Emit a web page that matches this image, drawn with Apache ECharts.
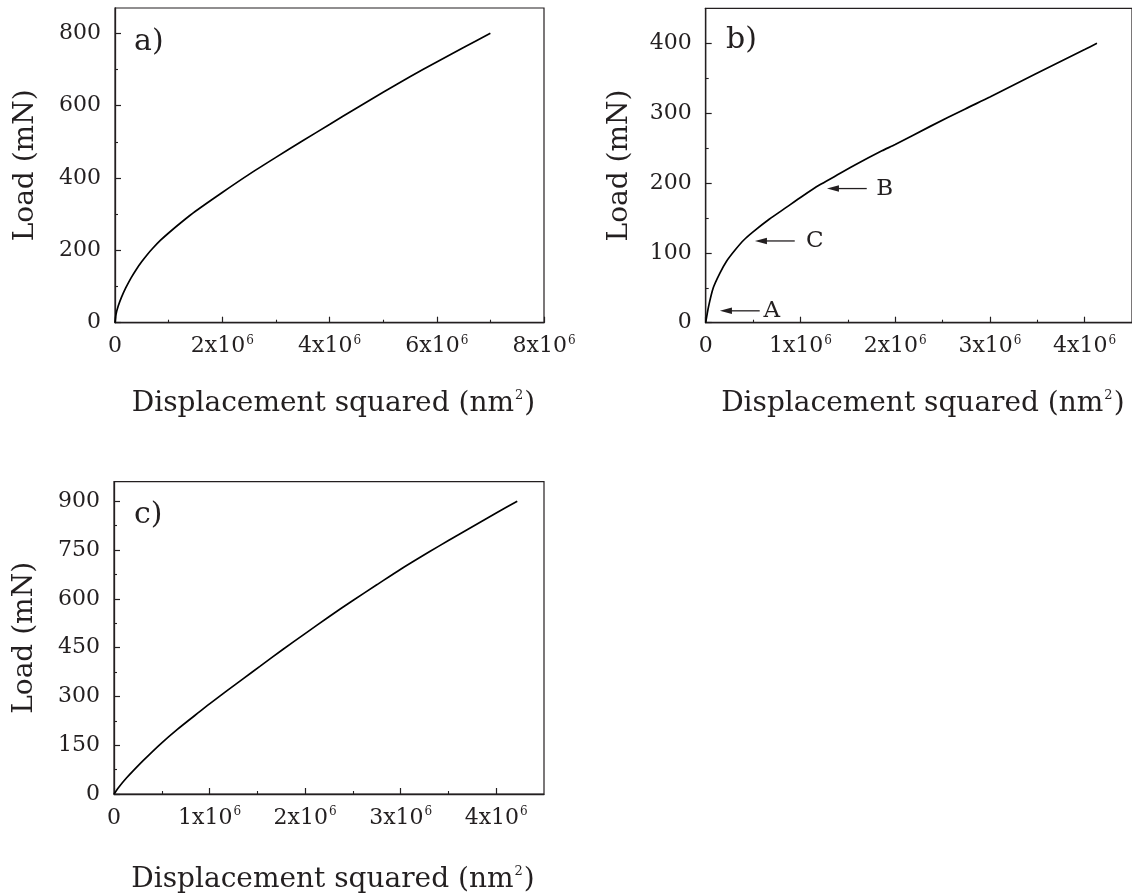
<!DOCTYPE html>
<html>
<head>
<meta charset="utf-8">
<script src="https://cdn.jsdelivr.net/npm/echarts@6/dist/echarts.min.js"></script>
<style>
  html, body { margin: 0; padding: 0; background: #fff; }
  #chart { width: 1132px; height: 895px; }
</style>
</head>
<body>
<div id="chart"></div>
<script>
// ---- Panel a) load vs displacement squared ----
const dispA = [0, 0.02e6, 0.06e6, 0.12e6, 0.2e6, 0.3e6, 0.4e6, 0.5e6, 0.6e6, 0.7e6, 0.85e6, 1.0e6, 1.25e6, 1.5e6,
               2.0e6, 2.5e6, 3.0e6, 3.5e6, 4.0e6, 4.5e6, 5.0e6, 5.5e6, 6.0e6, 6.5e6, 7.0e6];
const loadA = [0, 24, 46, 70, 96, 124, 148, 169, 188, 205, 228, 248, 279, 308,
               360, 410, 457, 503, 548, 593, 637, 680, 721, 761, 800];

// ---- Panel b) with marked points A, B, C ----
const dispB = [0, 0.03e6, 0.08e6, 0.15e6, 0.22e6, 0.31e6, 0.40e6, 0.5e6, 0.67e6, 0.85e6, 1.02e6, 1.2e6, 1.37e6,
               1.58e6, 1.86e6, 2.0e6, 2.37e6, 2.74e6, 3.0e6, 3.48e6, 4.0e6, 4.13e6];
const loadB = [0, 23, 50, 71, 88, 104, 118, 130, 148, 165, 181, 197, 210,
               226, 246, 255, 281, 306, 323, 356, 391, 400];
const markLabelsB = ['A', 'C', 'B'];
const markLoadB   = [17, 117, 192];
const markTipB    = [0.15e6, 0.52e6, 1.28e6];
const markTailB   = [0.57e6, 0.94e6, 1.70e6];
const markTextB   = [0.61e6, 1.06e6, 1.80e6];

// ---- Panel c) ----
const dispC = [0, 0.05e6, 0.13e6, 0.2e6, 0.31e6, 0.48e6, 0.66e6, 0.9e6, 1.0e6, 1.18e6, 1.35e6, 1.53e6, 1.77e6,
               2.0e6, 2.25e6, 2.5e6, 2.75e6, 3.0e6, 3.2e6, 3.4e6, 3.6e6, 3.8e6, 4.0e6, 4.22e6];
const loadC = [0, 21, 49, 71, 104, 152, 198, 254, 277, 317, 354, 393, 445,
               493, 545, 595, 643, 691, 727, 762, 796, 830, 864, 900];

// ---- axis extents and ticks ----
const xMaxA = 8e6, yMaxA = 870;
const xMajorA = [0, 2e6, 4e6, 6e6, 8e6];
const xMinorA = [1e6, 3e6, 5e6, 7e6];
const yMajorA = [0, 200, 400, 600, 800];
const yMinorA = [100, 300, 500, 700];

const xMaxB = 4.5e6, yMaxB = 450;
const xMajorB = [0, 1e6, 2e6, 3e6, 4e6];
const xMinorB = [0.5e6, 1.5e6, 2.5e6, 3.5e6];
const yMajorB = [0, 100, 200, 300, 400];
const yMinorB = [50, 150, 250, 350];

const xMaxC = 4.5e6, yMaxC = 960;
const xMajorC = [0, 1e6, 2e6, 3e6, 4e6];
const xMinorC = [0.5e6, 1.5e6, 2.5e6, 3.5e6];
const yMajorC = [0, 150, 300, 450, 600, 750, 900];
const yMinorC = [75, 225, 375, 525, 675, 825];

const panelTags = ['a)', 'b)', 'c)'];

const INK = '#231f20';
const FONT = 'DejaVu Serif';

const zip = (xs, ys) => xs.map((x, i) => [x, ys[i]]);

function sciLabel(v) {
  if (v === 0) return '{m|0}';
  return '{m|' + Math.round(v / 1e6) + 'x10}{s|6}';
}
const tickRich = {
  m: { fontFamily: FONT, fontSize: 22, color: INK, lineHeight: 24 },
  s: { fontFamily: FONT, fontSize: 12, color: INK, lineHeight: 12, verticalAlign: 'top', padding: [0, 0, 0, 1] }
};
const titleRich = {
  t: { fontFamily: FONT, fontSize: 28, color: INK, lineHeight: 30 },
  s: { fontFamily: FONT, fontSize: 13, color: INK, lineHeight: 13, verticalAlign: 'top', padding: [0, 1, 0, 1] }
};

const grids = [
  { left: 115, top: 8, width: 429, height: 314.7 },
  { left: 705.7, top: 8.3, width: 429.3, height: 314.4 },
  { left: 114, top: 481.7, width: 430, height: 314.6 }
].map(g => Object.assign({ show: true, borderColor: INK, borderWidth: 1.2, backgroundColor: 'transparent' }, g));

const panels = [
  { xMax: xMaxA, yMax: yMaxA, xMaj: xMajorA, xMin: xMinorA, yMaj: yMajorA, yMin: yMinorA, xGap: 66, yGap: 75 },
  { xMax: xMaxB, yMax: yMaxB, xMaj: xMajorB, xMin: xMinorB, yMaj: yMajorB, yMin: yMinorB, xGap: 66, yGap: 72 },
  { xMax: xMaxC, yMax: yMaxC, xMaj: xMajorC, xMin: xMinorC, yMaj: yMajorC, yMin: yMinorC, xGap: 71, yGap: 75 }
];

const xAxes = [], yAxes = [];
panels.forEach((p, g) => {
  // major ticks, labels and title
  xAxes.push({
    type: 'value', gridIndex: g, min: 0, max: p.xMax, position: 'bottom',
    axisLine: { show: true, onZero: false, lineStyle: { color: INK, width: 1.3 } },
    axisTick: { show: true, inside: true, length: 6, customValues: p.xMaj, lineStyle: { color: INK, width: 1.2 } },
    axisLabel: { customValues: p.xMaj, margin: 12, formatter: sciLabel, rich: tickRich },
    splitLine: { show: false },
    name: '{t|Displacement squared (nm}{s|2}{t|)}',
    nameLocation: 'middle', nameGap: p.xGap,
    nameTextStyle: { rich: titleRich, padding: [0, 0, 0, 8] }
  });
  // minor ticks
  xAxes.push({
    type: 'value', gridIndex: g, min: 0, max: p.xMax, position: 'bottom',
    axisLine: { show: false },
    axisTick: { show: true, inside: true, length: 3, customValues: p.xMin, lineStyle: { color: INK, width: 1.1 } },
    axisLabel: { show: false },
    splitLine: { show: false }
  });
  yAxes.push({
    type: 'value', gridIndex: g, min: 0, max: p.yMax, position: 'left',
    axisLine: { show: true, onZero: false, lineStyle: { color: INK, width: 1.3 } },
    axisTick: { show: true, inside: true, length: 6, customValues: p.yMaj, lineStyle: { color: INK, width: 1.2 } },
    axisLabel: { customValues: p.yMaj, margin: 14, fontFamily: FONT, fontSize: 22, color: INK },
    splitLine: { show: false },
    name: 'Load (mN)', nameLocation: 'middle', nameGap: p.yGap,
    nameTextStyle: { fontFamily: FONT, fontSize: 28, color: INK }
  });
  yAxes.push({
    type: 'value', gridIndex: g, min: 0, max: p.yMax, position: 'left', offset: 0,
    axisLine: { show: false },
    axisTick: { show: true, inside: true, length: 3, customValues: p.yMin, lineStyle: { color: INK, width: 1.1 } },
    axisLabel: { show: false },
    splitLine: { show: false }
  });
});

const curveStyle = { color: '#000', width: 1.7 };
function curve(g, xs, ys) {
  return {
    type: 'line', xAxisIndex: g * 2, yAxisIndex: g * 2,
    data: zip(xs, ys), showSymbol: false, symbol: 'none',
    smooth: 0.25,
    lineStyle: curveStyle, silent: true
  };
}

// arrows pointing at the curve in panel b
const arrowData = markLabelsB.map((_, i) => [markLoadB[i], markTipB[i], markTailB[i], markTextB[i]]);
const arrows = {
  type: 'custom', xAxisIndex: 2, yAxisIndex: 2,
  encode: { x: 1, y: 0 },
  data: arrowData, silent: true,
  renderItem(params, api) {
    const load = api.value(0);
    const tip = api.coord([api.value(1), load]);
    const tail = api.coord([api.value(2), load]);
    const txt = api.coord([api.value(3), load]);
    const headLen = 12, headHalf = 3.3;
    return {
      type: 'group',
      children: [
        { type: 'line', shape: { x1: tail[0], y1: tail[1], x2: tip[0] + headLen - 1, y2: tip[1] },
          style: { stroke: INK, lineWidth: 1.3 } },
        { type: 'polygon', shape: { points: [[tip[0], tip[1]], [tip[0] + headLen, tip[1] - headHalf], [tip[0] + headLen, tip[1] + headHalf]] },
          style: { fill: INK } },
        { type: 'text', x: txt[0], y: txt[1],
          style: { text: markLabelsB[params.dataIndex], fill: INK, font: '23px "' + FONT + '"',
                   textAlign: 'left', textVerticalAlign: 'middle' } }
      ]
    };
  }
};

const tagPos = [[134, 42.5], [726, 40], [134, 515]];
const graphics = panelTags.map((t, i) => ({
  type: 'text', x: tagPos[i][0], y: tagPos[i][1], silent: true,
  style: { text: t, fill: INK, font: '30px "' + FONT + '"', textAlign: 'left', textVerticalAlign: 'middle' }
}));

const chart = echarts.init(document.getElementById('chart'), null, { renderer: 'canvas' });
chart.setOption({
  backgroundColor: '#fff',
  animation: false,
  grid: grids,
  xAxis: xAxes,
  yAxis: yAxes,
  series: [curve(0, dispA, loadA), curve(1, dispB, loadB), curve(2, dispC, loadC), arrows],
  graphic: graphics
});
</script>
</body>
</html>
